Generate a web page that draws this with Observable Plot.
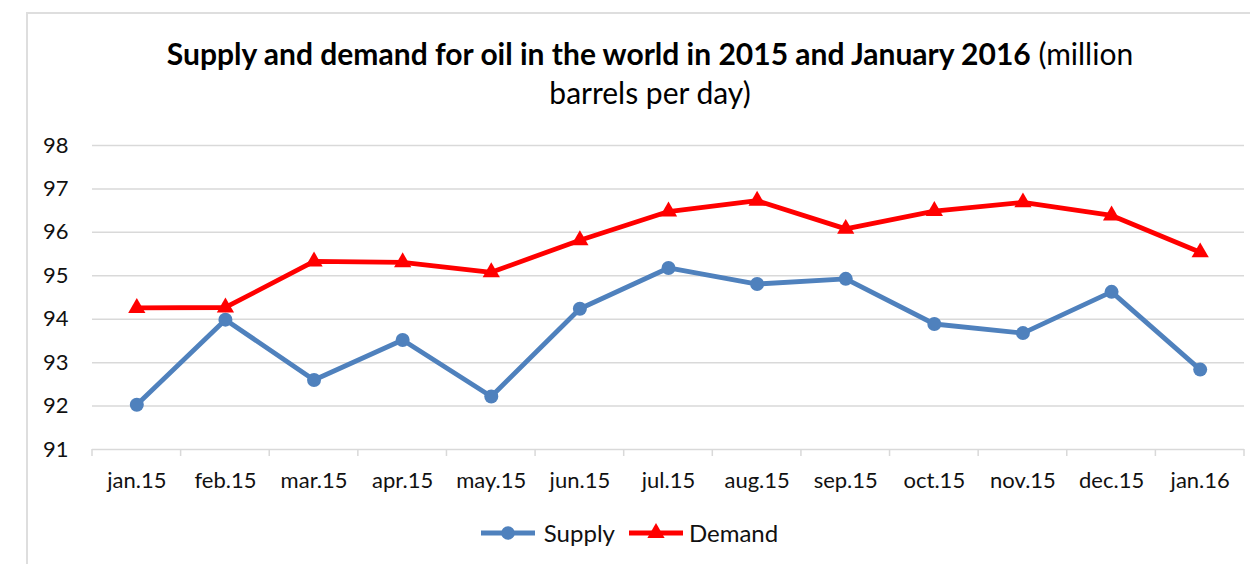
<!DOCTYPE html>
<html><head><meta charset="utf-8">
<script src="https://cdn.jsdelivr.net/npm/d3@7"></script>
<script src="https://cdn.jsdelivr.net/npm/@observablehq/plot@0.6"></script>
<style>
body{margin:0;background:#fff;overflow:hidden;font-family:Lato,sans-serif;}
#wrap{position:relative;width:1250px;height:564px;overflow:hidden;background:#fff;}
#frame{position:absolute;left:26px;top:12px;width:1300px;height:600px;border-left:2px solid #dedede;border-top:2px solid #dedede;}
#title{position:absolute;left:0;width:1300px;top:34px;text-align:center;font-size:30px;line-height:39px;color:#000;}
#title b{font-weight:700;}
#chart{position:absolute;left:0;top:125px;}
#legend{position:absolute;left:0;width:1258px;top:518px;display:flex;justify-content:center;align-items:center;font-size:24px;color:#111;}
#legend .item{display:flex;align-items:center;}
</style></head>
<body><div id="wrap"><div id="frame"></div>
<div id="title"><b>Supply and demand for oil in the world in 2015 and January 2016</b> (million<br>barrels per day)</div>
<div id="chart"></div><div id="legend"></div></div>
<script>
const months = ["jan.15","feb.15","mar.15","apr.15","may.15","jun.15","jul.15","aug.15","sep.15","oct.15","nov.15","dec.15","jan.16"];
const supply = [92.03, 93.99, 92.60, 93.52, 92.22, 94.24, 95.18, 94.81, 94.93, 93.89, 93.68, 94.63, 92.84];
const demand = [94.26, 94.27, 95.33, 95.31, 95.08, 95.82, 96.48, 96.73, 96.08, 96.49, 96.69, 96.39, 95.54];
const seriesNames = ["Supply", "Demand"];
const seriesColors = ["#4f81bd", "#ff0000"];
const yTicks = [91, 92, 93, 94, 95, 96, 97, 98];

const rows = [];
months.forEach((m, i) => rows.push({month: m, value: supply[i], series: "Supply"}));
months.forEach((m, i) => rows.push({month: m, value: demand[i], series: "Demand"}));
const supplyRows = rows.filter(d => d.series === "Supply");
const demandRows = rows.filter(d => d.series === "Demand");

function xTickMarks(index, scales, values, dimensions) {
  const x = scales.x, y = scales.y;
  const bw = x.bandwidth ? x.bandwidth() : (x(months[1]) - x(months[0]));
  const y0 = y(yTicks[0]);
  const g = d3.create("svg:g");
  const edges = months.map(m => x(m)).concat([x(months[months.length - 1]) + bw]);
  g.selectAll("line").data(edges).join("line")
    .attr("x1", d => d).attr("x2", d => d)
    .attr("y1", y0).attr("y2", y0 + 7)
    .attr("stroke", "#d9d9d9").attr("stroke-width", 1.5);
  return g.node();
}

const chart = Plot.plot({
  width: 1250,
  height: 380,
  marginTop: 20,
  marginBottom: 56,
  marginLeft: 92,
  marginRight: 6,
  style: {fontFamily: "Lato, sans-serif", fontSize: "22px", color: "#111", background: "transparent"},
  x: {type: "band", domain: months, paddingInner: 0, paddingOuter: 0, round: false, label: null, tickSize: 0, tickPadding: 23},
  y: {domain: [91, 98], ticks: yTicks, tickFormat: d3.format("d"), label: null, tickSize: 0, tickPadding: 24},
  color: {domain: seriesNames, range: seriesColors},
  marks: [
    Plot.ruleY(yTicks, {stroke: "#d9d9d9", strokeWidth: 1.5}),
    xTickMarks,
    Plot.line(supplyRows, {x: "month", y: "value", stroke: "series", strokeWidth: 4.8}),
    Plot.dot(supplyRows, {x: "month", y: "value", fill: "series", r: 7, symbol: "circle"}),
    Plot.line(demandRows, {x: "month", y: "value", stroke: "series", strokeWidth: 4.8}),
    Plot.dot(demandRows, {x: "month", y: "value", fill: "series", r: 6.4, symbol: "triangle"})
  ]
});
document.getElementById("chart").appendChild(chart);

// legend
const legend = d3.select("#legend");
const symbols = ["circle", "triangle"];
seriesNames.forEach((name, i) => {
  const item = legend.append("div").attr("class", "item").style("margin-left", i ? "13px" : "0");
  const svg = item.append("svg").attr("width", 56).attr("height", 20);
  svg.append("line").attr("x1", 1).attr("x2", 55).attr("y1", 10).attr("y2", 10)
    .attr("stroke", seriesColors[i]).attr("stroke-width", 4.8);
  const sym = symbols[i] === "circle" ? d3.symbolCircle : d3.symbolTriangle;
  svg.append("path").attr("transform", "translate(28,10)")
    .attr("d", d3.symbol(sym, Math.PI * (i ? 6.4 * 6.4 : 6.8 * 6.8))())
    .attr("fill", seriesColors[i]);
  item.append("span").text(name).style("margin-left", i ? "5px" : "8px");
});
</script></body></html>
